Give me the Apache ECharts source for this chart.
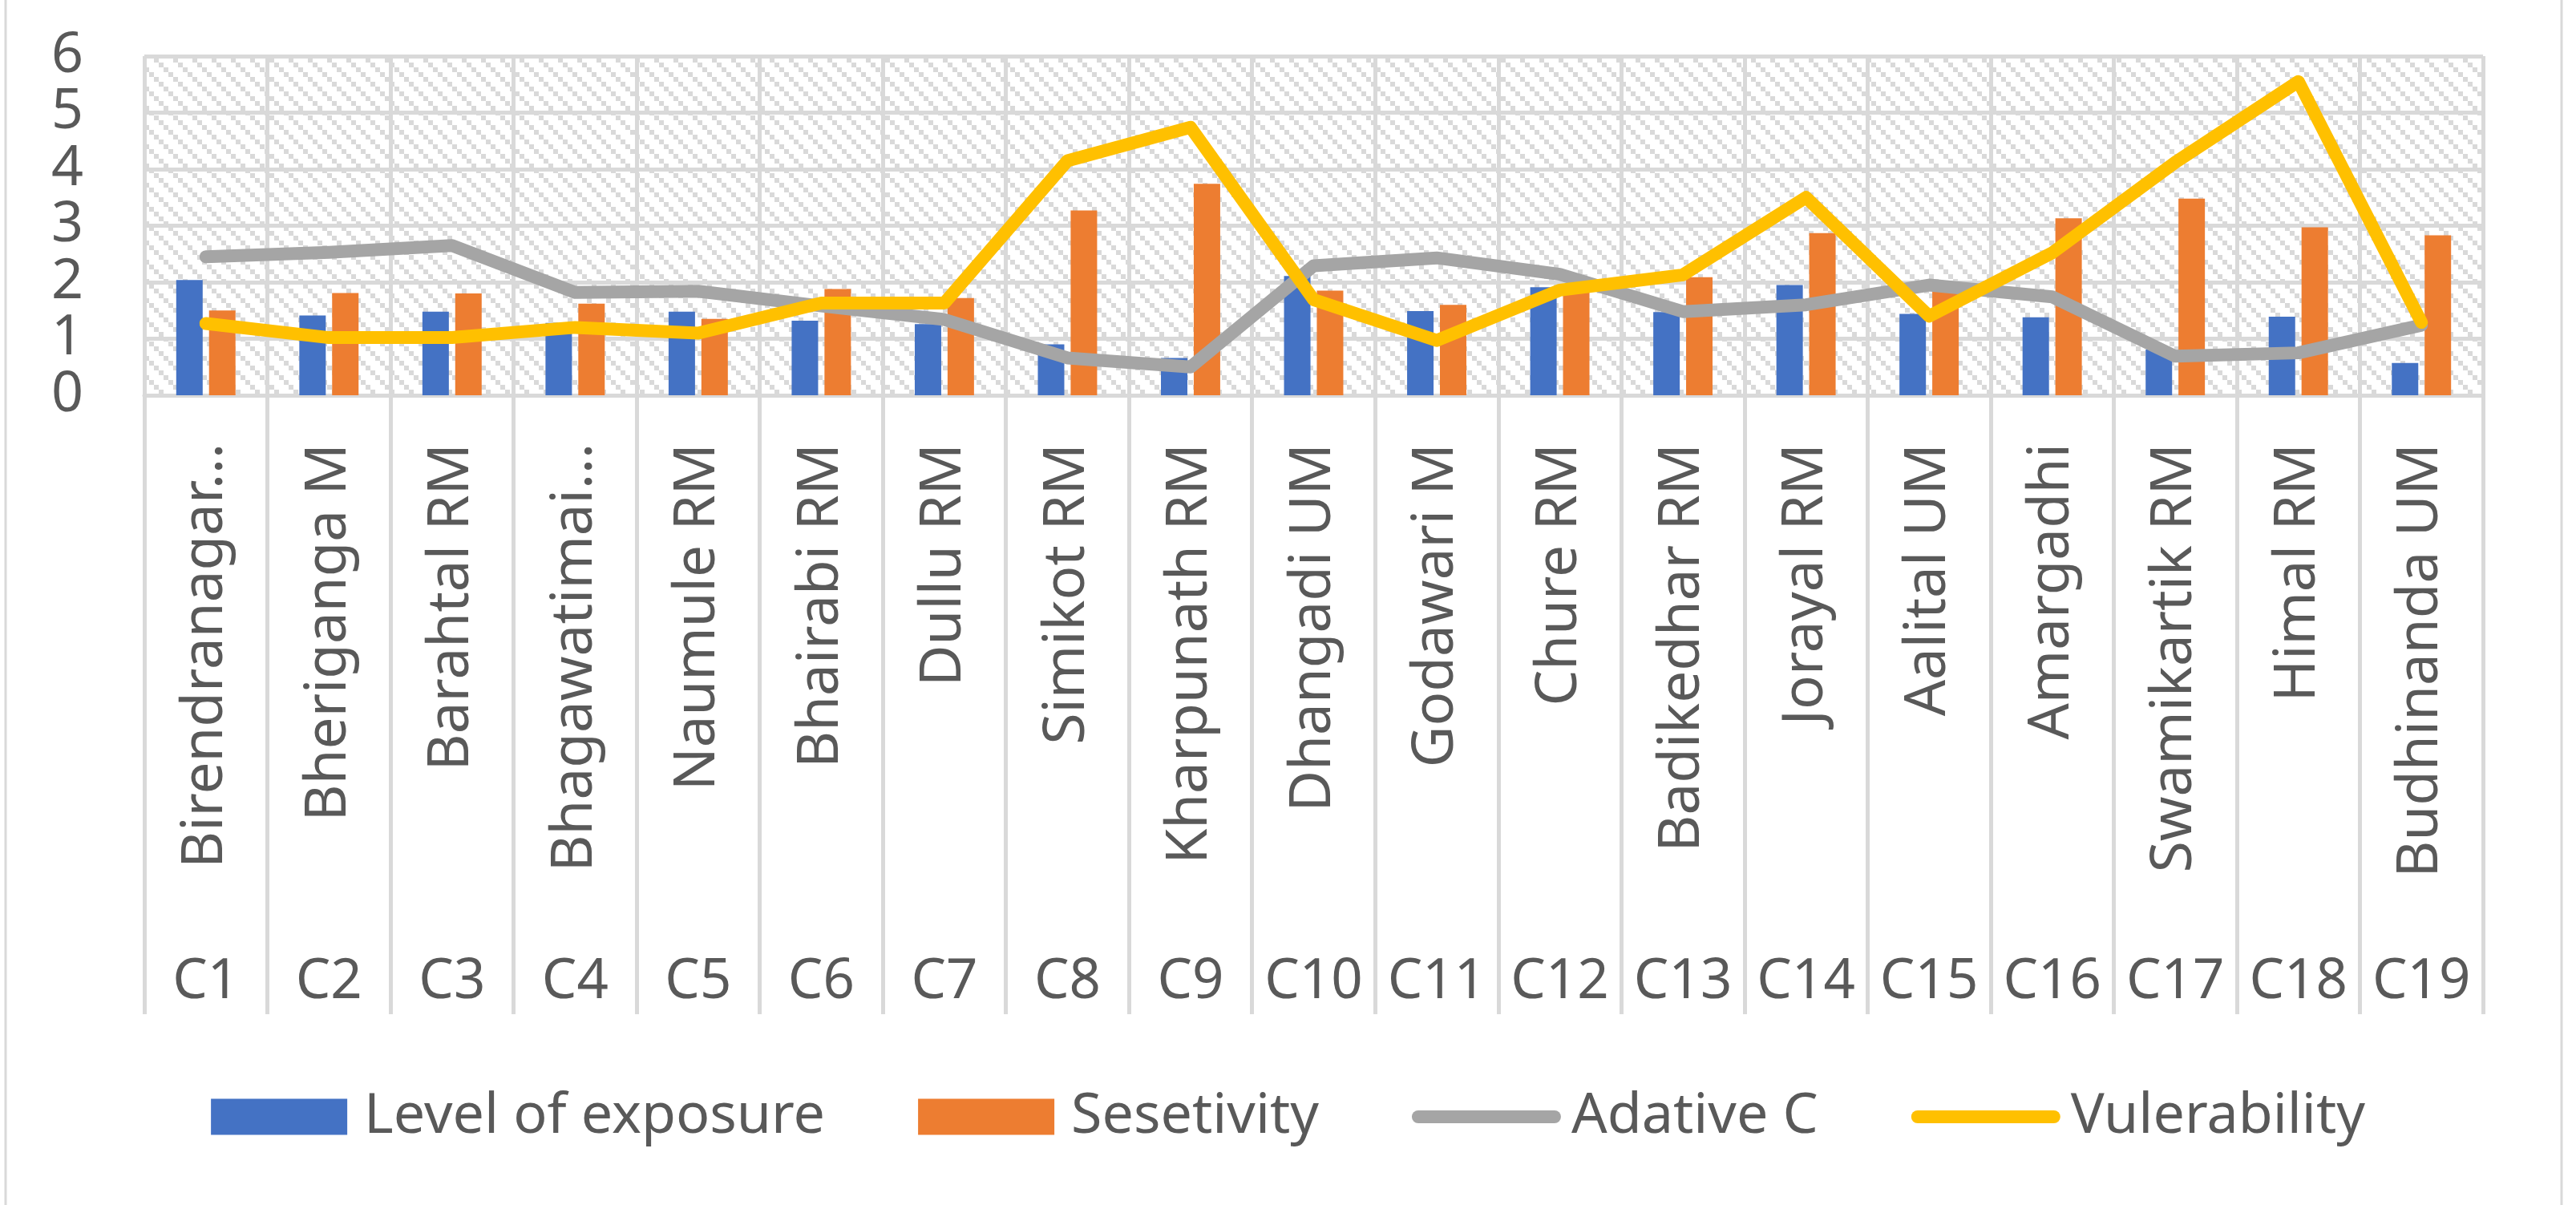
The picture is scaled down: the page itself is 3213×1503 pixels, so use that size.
<!DOCTYPE html>
<html>
<head>
<meta charset="utf-8">
<script src="https://cdn.jsdelivr.net/npm/echarts@6/dist/echarts.min.js"></script>
<style>
  html, body { margin: 0; padding: 0; background: #ffffff; }
  #chart { width: 3213px; height: 1503px; }
</style>
</head>
<body>
<div id="chart"></div>
<script>
// Cluster codes (outer axis level) and municipality names (inner level)
const codes = ['C1','C2','C3','C4','C5','C6','C7','C8','C9','C10',
               'C11','C12','C13','C14','C15','C16','C17','C18','C19'];
const municipalities = ['Birendranagar...','Bheriganga M','Barahtal RM','Bhagawatimai...',
  'Naumule RM','Bhairabi RM','Dullu RM','Simikot RM','Kharpunath RM','Dhangadi UM',
  'Godawari M','Chure RM','Badikedhar RM','Jorayal RM','Aalital UM','Amargadhi',
  'Swamikartik RM','Himal RM','Budhinanda UM'];

// Index values per municipality
const exposure      = [2.04,1.41,1.48,1.28,1.48,1.32,1.26,0.90,0.66,2.11,1.49,1.91,1.47,1.95,1.44,1.38,0.81,1.39,0.57];
const sensitivity   = [1.50,1.81,1.80,1.62,1.35,1.88,1.72,3.27,3.74,1.85,1.60,1.93,2.09,2.87,1.83,3.13,3.48,2.97,2.83];
const adaptive      = [2.45,2.53,2.65,1.82,1.84,1.58,1.34,0.66,0.50,2.29,2.43,2.14,1.48,1.60,1.95,1.74,0.69,0.75,1.24];
const vulnerability = [1.27,1.02,1.02,1.20,1.10,1.63,1.63,4.15,4.74,1.69,0.97,1.86,2.13,3.50,1.40,2.52,4.12,5.55,1.29];

const yMin = 0, yMax = 6, yStep = 1;

const FONT = "'Noto Sans', 'Open Sans', sans-serif";
const TEXT = '#595959';
const GRID_LINE = '#d9d9d9';

// Diagonal dotted hatch used as the plot-area fill
function makeHatch() {
  const size = 24, cell = 6;
  const c = document.createElement('canvas');
  c.width = size; c.height = size;
  const g = c.getContext('2d');
  g.fillStyle = '#ffffff';
  g.fillRect(0, 0, size, size);
  g.fillStyle = GRID_LINE;
  for (let k = 0; k < size / cell; k++) g.fillRect(k * cell, k * cell, cell, cell);
  return c;
}

const chart = echarts.init(document.getElementById('chart'), null, { renderer: 'canvas' });

chart.setOption({
  animation: false,
  backgroundColor: '#ffffff',
  textStyle: { fontFamily: FONT },
  graphic: [{
    type: 'rect', silent: true, z: -1,
    shape: { x: 7, y: -10, width: 3188, height: 1530 },
    style: { fill: 'none', stroke: GRID_LINE, lineWidth: 3 }
  }],
  grid: {
    left: 180, right: 116, top: 70, bottom: 1010,
    show: true, borderWidth: 0,
    backgroundColor: { image: makeHatch(), repeat: 'repeat' }
  },
  legend: {
    top: 1353, left: 'center',
    itemWidth: 170, itemHeight: 45, itemGap: 116,
    textStyle: { fontSize: 70, color: TEXT, fontFamily: FONT, padding: [0, 0, 0, 16] },
    lineStyle: { width: 16, cap: 'round' },
    data: [
      { name: 'Level of exposure', icon: 'rect' },
      { name: 'Sesetivity', icon: 'rect' },
      { name: 'Adative C', itemStyle: { opacity: 0 } },
      { name: 'Vulerability', itemStyle: { opacity: 0 } }
    ]
  },
  xAxis: [{
    type: 'category',
    data: municipalities,
    position: 'bottom',
    axisLine: { show: true, lineStyle: { color: GRID_LINE, width: 5 } },
    axisTick: { show: true, interval: 0, length: 772, lineStyle: { color: GRID_LINE, width: 5 } },
    splitLine: { show: true, interval: 0, lineStyle: { color: GRID_LINE, width: 5 } },
    axisLabel: { interval: 0, rotate: 90, margin: 60, fontSize: 71, color: TEXT, fontFamily: FONT }
  }, {
    type: 'category',
    data: codes,
    position: 'bottom',
    axisLine: { show: false },
    axisTick: { show: false },
    splitLine: { show: false },
    axisLabel: { interval: 0, margin: 698, fontSize: 69, color: TEXT, fontFamily: FONT, lineHeight: 69 }
  }],
  yAxis: {
    type: 'value',
    min: yMin, max: yMax, interval: yStep,
    axisLine: { show: false },
    axisTick: { show: false },
    splitLine: { show: true, lineStyle: { color: GRID_LINE, width: 5 } },
    axisLabel: { margin: 76, fontSize: 70, color: TEXT, fontFamily: FONT }
  },
  series: [{
    name: 'Level of exposure', type: 'bar', data: exposure,
    barWidth: 33, barGap: '24%',
    itemStyle: { color: '#4472C4' }
  }, {
    name: 'Sesetivity', type: 'bar', data: sensitivity,
    barWidth: 33, barGap: '24%',
    itemStyle: { color: '#ED7D31' }
  }, {
    name: 'Adative C', type: 'line', data: adaptive,
    symbol: 'none',
    itemStyle: { color: '#A5A5A5' },
    lineStyle: { color: '#A5A5A5', width: 16, cap: 'round', join: 'round' }
  }, {
    name: 'Vulerability', type: 'line', data: vulnerability,
    symbol: 'none',
    itemStyle: { color: '#FFC000' },
    lineStyle: { color: '#FFC000', width: 16, cap: 'round', join: 'round' }
  }]
});
</script>
</body>
</html>
